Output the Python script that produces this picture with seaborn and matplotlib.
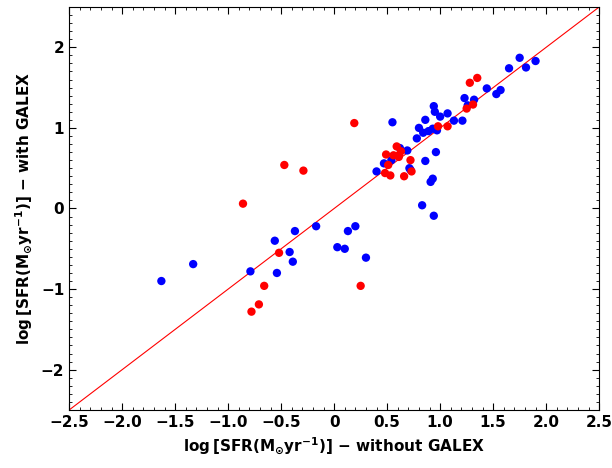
import numpy as np
import pandas as pd
import matplotlib
matplotlib.use("Agg")
import matplotlib.pyplot as plt
import seaborn as sns
from matplotlib.ticker import MultipleLocator

# blue points: log SFR without GALEX vs with GALEX
blue_x = [-1.63, -1.33, -0.79, -0.56, -0.54, -0.42, -0.39, -0.37, -0.17, 0.03,
          0.10, 0.13, 0.20, 0.30, 0.40, 0.47, 0.54, 0.55, 0.62, 0.69,
          0.71, 0.78, 0.80, 0.84, 0.86, 0.86, 0.83, 0.89, 0.93, 0.97,
          0.94, 0.95, 1.00, 0.96, 0.91, 0.93, 0.94, 1.07, 1.13, 1.21,
          1.23, 1.26, 1.32, 1.44, 1.53, 1.57, 1.65, 1.75, 1.81, 1.90,
          0.72]
blue_y = [-0.90, -0.69, -0.78, -0.40, -0.80, -0.54, -0.66, -0.28, -0.22, -0.48,
          -0.50, -0.28, -0.22, -0.61, 0.46, 0.56, 0.60, 1.07, 0.75, 0.72,
          0.50, 0.87, 1.00, 0.94, 1.10, 0.59, 0.04, 0.96, 0.99, 0.97,
          1.27, 1.20, 1.14, 0.70, 0.33, 0.37, -0.09, 1.18, 1.09, 1.09,
          1.37, 1.28, 1.35, 1.49, 1.42, 1.47, 1.74, 1.87, 1.75, 1.83,
          0.48]

# red points
red_x = [-0.86, -0.78, -0.71, -0.66, -0.52, -0.47, -0.29, 0.19, 0.25, 0.49,
         0.51, 0.48, 0.53, 0.56, 0.59, 0.61, 0.63, 0.66, 0.72, 0.73,
         0.98, 1.07, 1.25, 1.31, 1.28, 1.35, 0.61]
red_y = [0.06, -1.28, -1.19, -0.96, -0.55, 0.54, 0.47, 1.06, -0.96, 0.67,
         0.54, 0.44, 0.41, 0.66, 0.77, 0.66, 0.71, 0.40, 0.60, 0.46,
         1.02, 1.02, 1.24, 1.29, 1.56, 1.62, 0.64]

df = pd.DataFrame({
    "x": blue_x + red_x,
    "y": blue_y + red_y,
    "group": ["blue"] * len(blue_x) + ["red"] * len(red_x),
})

sns.set_style("ticks", {"axes.edgecolor": "black", "text.color": "black",
                        "axes.labelcolor": "black", "xtick.color": "black",
                        "ytick.color": "black"})
plt.rcParams["font.family"] = ["DejaVu Sans"]
plt.rcParams["mathtext.fontset"] = "dejavusans"
plt.rcParams["mathtext.default"] = "bf"

fig = plt.figure(figsize=(6.12, 4.68), dpi=100)
ax = fig.add_axes([0.113, 0.124, 0.866, 0.861])

# one-to-one line
ax.plot([-2.5, 2.5], [-2.5, 2.5], color="red", lw=0.8, zorder=1)

sns.scatterplot(data=df, x="x", y="y", hue="group",
                palette={"blue": "#0000ff", "red": "#ff0000"},
                s=36, linewidth=0, legend=False, ax=ax, zorder=2)

ax.set_xlim(-2.5, 2.5)
ax.set_ylim(-2.5, 2.5)
ax.xaxis.set_minor_locator(MultipleLocator(0.1))
ax.yaxis.set_minor_locator(MultipleLocator(0.1))
ax.tick_params(which="both", direction="in", top=True, right=True)
ax.tick_params(which="major", length=5, width=0.8, labelsize=11)
ax.tick_params(which="minor", length=2.5, width=0.6)
for s in ax.spines.values():
    s.set_linewidth(0.8)

xt = np.arange(-2.5, 2.51, 0.5)
ax.set_xticks(xt)
ax.set_xticklabels(["0" if abs(v) < 1e-9 else f"{v:.1f}".replace("-", "\u2212") for v in xt],
                   fontweight="bold")
yt = [-2, -1, 0, 1, 2]
ax.set_yticks(yt)
ax.set_yticklabels([str(v).replace("-", "\u2212") for v in yt], fontweight="bold")

ax.set_xlabel(r"log$\,$[SFR(M$_{\odot}$yr$^{-1}$)] $-$ without GALEX",
              fontsize=11, fontweight="bold")
ax.set_ylabel(r"log$\,$[SFR(M$_{\odot}$yr$^{-1}$)] $-$ with GALEX",
              fontsize=11, fontweight="bold")

fig.savefig("out.png", dpi=100)
